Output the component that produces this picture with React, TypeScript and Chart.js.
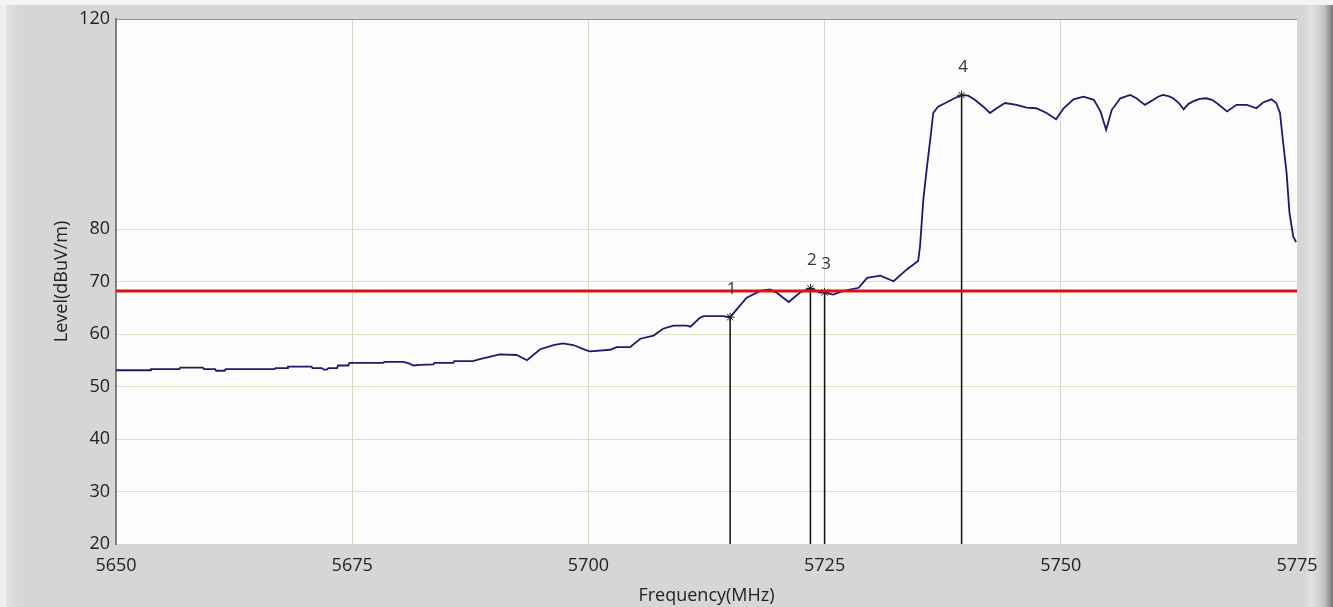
import React, { useEffect, useRef } from 'react';
import { Chart, registerables } from 'chart.js';

Chart.register(...registerables);

// ---- data ----
const FREQ_MHZ = [
  5650.0, 5653.6, 5653.7, 5656.7, 5656.8, 5659.2, 5659.3, 5660.5, 5660.6, 5661.5,
  5661.6, 5666.8, 5666.9, 5668.1, 5668.2, 5670.7, 5670.8, 5671.8, 5672.0, 5672.3,
  5672.5, 5673.4, 5673.5, 5674.6, 5674.7, 5678.3, 5678.4, 5680.4, 5681.0, 5681.5,
  5682.2, 5683.6, 5683.7, 5685.7, 5685.8, 5687.8, 5688.5, 5689.2, 5690.6, 5692.4,
  5693.5, 5694.9, 5696.3, 5697.3, 5698.4, 5699.8, 5700.2, 5702.3, 5703.0, 5704.4,
  5705.5, 5706.9, 5707.9, 5709.0, 5710.4, 5710.8, 5711.8, 5712.2, 5714.3, 5715.0,
  5715.7, 5716.75, 5718.2, 5719.2, 5719.9, 5721.2, 5722.4, 5723.5, 5724.5, 5725.0,
  5725.9, 5727.0, 5728.6, 5729.5, 5730.9, 5732.3, 5733.7, 5734.9, 5735.1, 5735.45,
  5735.8, 5736.2, 5736.5, 5737.0, 5737.9, 5738.95, 5739.5, 5740.2, 5740.9, 5741.8,
  5742.5, 5743.2, 5744.1, 5745.3, 5746.4, 5747.4, 5748.5, 5749.5, 5750.3, 5751.35,
  5752.4, 5753.5, 5754.2, 5754.8, 5755.4, 5756.3, 5757.35, 5758.0, 5758.9, 5759.8,
  5760.3, 5760.8, 5761.4, 5761.9, 5762.5, 5763.0, 5763.5, 5764.0, 5764.7, 5765.4,
  5766.0, 5766.5, 5767.6, 5768.6, 5769.7, 5770.7, 5771.4, 5772.3, 5772.8, 5773.2,
  5773.5, 5773.9, 5774.2, 5774.6, 5774.9,
];
const LEVEL_DBUV = [
  53.1, 53.1, 53.3, 53.3, 53.6, 53.6, 53.3, 53.3, 53.0, 53.0,
  53.3, 53.3, 53.5, 53.5, 53.8, 53.8, 53.5, 53.5, 53.2, 53.2,
  53.5, 53.5, 54.0, 54.0, 54.5, 54.5, 54.7, 54.7, 54.4, 54.0,
  54.1, 54.2, 54.5, 54.5, 54.85, 54.85, 55.2, 55.5, 56.1, 56.0,
  55.0, 57.1, 57.9, 58.2, 57.9, 56.9, 56.7, 57.0, 57.5, 57.5,
  59.1, 59.7, 61.0, 61.6, 61.6, 61.4, 63.1, 63.4, 63.4, 63.2,
  64.7, 66.9, 68.2, 68.5, 67.9, 66.1, 67.9, 68.7, 67.9, 67.9,
  67.5, 68.2, 68.8, 70.7, 71.1, 70.05, 72.3, 73.9, 76.7, 85.6,
  91.3, 97.3, 102.1, 103.3, 104.1, 105.1, 105.5, 105.4, 104.6, 103.3,
  102.1, 103.0, 104.0, 103.65, 103.1, 103.0, 102.1, 100.9, 103.0, 104.7,
  105.2, 104.6, 102.4, 98.9, 102.7, 104.9, 105.55, 104.9, 103.65, 104.6,
  105.2, 105.55, 105.3, 104.9, 104.0, 102.8, 103.8, 104.3, 104.8, 104.9,
  104.6, 104.0, 102.4, 103.65, 103.65, 103.0, 104.1, 104.7, 104.0, 102.1,
  97.0, 90.7, 83.1, 78.6, 77.5,
];
const LIMIT_LEVEL = 68.2;
const MARKER_FREQ = [5715.0, 5723.5, 5725.0, 5739.5];
const MARKER_LEVEL = [63.2, 68.7, 67.9, 105.5];
const MARKER_LABELS = ['1', '2', '3', '4'];
const X_MIN = 5650;
const X_MAX = 5775;
const X_STEP = 25;
const Y_MIN = 20;
const Y_MAX = 120;
const Y_TICKS = [20, 30, 40, 50, 60, 70, 80, 120];
const X_TITLE = 'Frequency(MHz)';
const Y_TITLE = 'Level(dBuV/m)';

const W = 1333;
const H = 607;
const FONT = '"Open Sans", "Noto Sans", sans-serif';

const plotBg = {
  id: 'plotBg',
  beforeDraw(chart: any) {
    const { ctx, chartArea } = chart;
    ctx.save();
    ctx.fillStyle = '#fcfcfc';
    ctx.fillRect(chartArea.left, chartArea.top, chartArea.right - chartArea.left, chartArea.bottom - chartArea.top);
    ctx.restore();
  },
};

const markerText = {
  id: 'markerText',
  afterDatasetsDraw(chart: any) {
    const { ctx } = chart;
    const xs = chart.scales.x;
    const ys = chart.scales.y;
    ctx.save();
    ctx.font = `17px ${FONT}`;
    ctx.fillStyle = '#333333';
    ctx.textAlign = 'center';
    ctx.textBaseline = 'middle';
    MARKER_FREQ.forEach((f, i) => {
      const px = xs.getPixelForValue(f) + 1.5;
      const py = ys.getPixelForValue(MARKER_LEVEL[i]) - 28;
      ctx.fillText(MARKER_LABELS[i], px, py);
    });
    ctx.restore();
  },
};

export default function App() {
  const ref = useRef<HTMLCanvasElement | null>(null);

  useEffect(() => {
    if (!ref.current) return;
    const trace = FREQ_MHZ.map((f, i) => ({ x: f, y: LEVEL_DBUV[i] }));
    const markerSets = MARKER_FREQ.map((f, i) => ({
      label: 'M' + MARKER_LABELS[i],
      data: [
        { x: f, y: MARKER_LEVEL[i] },
        { x: f, y: Y_MIN },
      ],
      borderColor: '#111111',
      borderWidth: 1.5,
      pointStyle: 'star',
      pointRadius: [4.5, 0],
      pointBorderColor: '#222222',
      pointBorderWidth: 1,
      order: 1,
    }));
    const chart = new Chart(ref.current, {
      type: 'line',
      data: {
        datasets: [
          {
            label: 'Limit',
            data: [
              { x: X_MIN, y: LIMIT_LEVEL },
              { x: X_MAX, y: LIMIT_LEVEL },
            ],
            borderColor: '#dd1111',
            borderWidth: 3,
            pointRadius: 0,
            order: 0,
          },
          ...markerSets,
          {
            label: 'Level',
            data: trace,
            borderColor: '#1b1b6c',
            borderWidth: 1.8,
            pointRadius: 0,
            order: 2,
          },
        ] as any,
      },
      options: {
        animation: false,
        responsive: false,
        devicePixelRatio: 1,
        events: [],
        layout: { padding: { left: 0, top: 19, right: 36, bottom: 0 }, autoPadding: false },
        plugins: { legend: { display: false }, tooltip: { enabled: false } },
        scales: {
          x: {
            type: 'linear',
            min: X_MIN,
            max: X_MAX,
            afterFit(scale: any) {
              scale.height = 63;
            },
            ticks: {
              stepSize: X_STEP,
              padding: 11,
              color: '#222222',
              font: { family: FONT, size: 18 },
              callback: (v: any) => String(v),
              maxRotation: 0,
            },
            grid: {
              drawTicks: false,
              lineWidth: 1,
              color: (c: any) =>
                c.tick && (c.tick.value === X_MIN || c.tick.value === X_MAX) ? 'rgba(0,0,0,0)' : '#d9d6c4',
            },
            border: { display: false },
            title: {
              display: true,
              text: X_TITLE,
              color: '#222222',
              font: { family: FONT, size: 18 },
              padding: { top: 0, bottom: 0 },
            },
          },
          y: {
            type: 'linear',
            min: Y_MIN,
            max: Y_MAX,
            afterFit(scale: any) {
              scale.width = 116;
            },
            afterBuildTicks(scale: any) {
              scale.ticks = Y_TICKS.map((v) => ({ value: v }));
            },
            ticks: {
              padding: 6,
              color: '#222222',
              font: { family: FONT, size: 18 },
              callback: (v: any) => String(v),
            },
            grid: {
              drawTicks: false,
              lineWidth: 1,
              color: (c: any) => {
                if (!c.tick) return '#e2dec6';
                if (c.tick.value === Y_MAX) return '#8f8f8f';
                if (c.tick.value === Y_MIN) return 'rgba(0,0,0,0)';
                return '#e2dec6';
              },
            },
            border: { display: true, color: '#808080', width: 2 },
            title: {
              display: true,
              text: Y_TITLE,
              color: '#222222',
              font: { family: FONT, size: 18 },
              padding: { top: 51, bottom: 0 },
            },
          },
        },
      },
      plugins: [plotBg, markerText],
    } as any);
    return () => chart.destroy();
  }, []);

  return (
    <div
      style={{
        position: 'fixed',
        left: 0,
        top: 0,
        width: W,
        height: H,
        overflow: 'hidden',
        background: '#d6d6d6',
      }}
    >
      <div style={{ position: 'absolute', left: 0, top: 0, width: W, height: 5, background: '#f4f4f4' }} />
      <div
        style={{
          position: 'absolute',
          left: 0,
          top: 5,
          width: 20,
          height: H - 5,
          background: 'linear-gradient(to right, #efefef 0px, #efefef 6px, #e0e0e0 7px, #d6d6d6 20px)',
        }}
      />
      <div
        style={{
          position: 'absolute',
          left: 1306,
          top: 5,
          width: W - 1306,
          height: H - 5,
          background: 'linear-gradient(to right, #d9d9d9 0px, #e2e2e2 6px, #c4c4c4 18px, #8a8a8a 25px, #6e6e6e 27px)',
        }}
      />
      <canvas ref={ref} width={W} height={H} style={{ position: 'absolute', left: 0, top: 0, width: W, height: H }} />
    </div>
  );
}
